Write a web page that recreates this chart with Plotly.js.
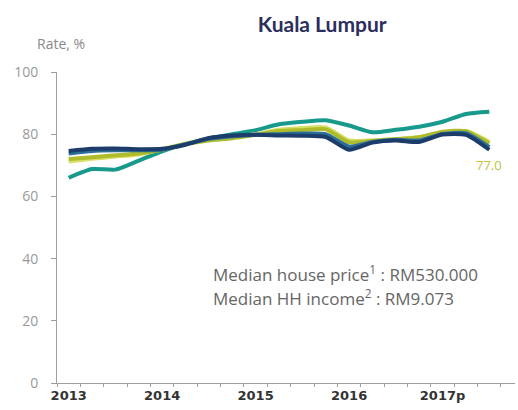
<!DOCTYPE html>
<html>
<head>
<meta charset="utf-8">
<script src="https://cdn.plot.ly/plotly-3.0.1.min.js"></script>
<style>html,body{margin:0;padding:0;background:#fff;}#chart{width:518px;height:410px;}</style>
</head>
<body>
<div id="chart"></div>
<script>
// Quarterly points, 2013 Q1 .. 2017 Q3 (positions are category slots)
const quarters = [0.5,1.5,2.5,3.5,4.5,5.5,6.5,7.5,8.5,9.5,10.5,11.5,12.5,13.5,14.5,15.5,16.5,17.5,18.5];
const yearLabels = ["2013","2014","2015","2016","2017p"];
const yearPositions = [0.5,4.5,8.5,12.5,16.5];

const navy      = [74.6,75.3,75.4,75.2,75.3,76.6,78.8,79.6,79.8,79.6,79.5,79.1,75.0,77.3,78.0,77.5,79.9,79.8,75.0];
const blue      = [73.8,74.6,74.8,74.8,75.0,76.8,78.5,79.3,79.8,80.0,80.2,80.0,76.0,77.5,78.2,78.0,80.1,80.3,75.8];
const olive     = [72.0,72.6,73.2,73.8,75.0,76.8,78.0,78.7,79.8,81.0,81.3,81.6,77.4,77.9,78.3,79.0,80.8,81.0,77.0];
const lightYel  = [71.2,72.1,72.8,73.5,75.2,77.0,78.3,79.0,80.0,81.4,82.0,82.2,78.0,78.0,78.5,79.1,80.5,81.0,77.6];
const tealGreen = [66.0,68.8,68.6,71.5,74.5,76.8,78.6,80.0,81.3,83.2,84.0,84.5,82.8,80.6,81.4,82.4,84.0,86.5,87.2];

const lastLabel = "77.0";

function tr(y, color) {
  return {x: quarters, y: y, type: 'scatter', mode: 'lines',
    line: {color: color, width: 4, shape: 'spline', smoothing: 0.6}, hoverinfo: 'skip'};
}

const data = [
  tr(tealGreen, '#179a8c'),
  tr(lightYel, '#d8df66'),
  tr(olive, '#aebc2c'),
  tr(blue, '#2b6f98'),
  tr(navy, '#1c3d6c')
];

const layout = {
  width: 518, height: 410,
  margin: {l: 57, r: 3, t: 72, b: 27},
  paper_bgcolor: '#ffffff', plot_bgcolor: '#ffffff',
  showlegend: false,
  font: {family: '"Open Sans", Lato, sans-serif'},
  title: {text: '<b>Kuala Lumpur</b>', font: {size: 21, color: '#2c2e5c', family: 'Lato, sans-serif'},
          xref: 'container', x: 0.622, xanchor: 'center', yref: 'container', y: 0.94, yanchor: 'middle'},
  xaxis: {
    range: [0, 19.6], showgrid: false, zeroline: false,
    showline: true, linecolor: '#a0a0a0', linewidth: 1,
    tickmode: 'array', tickvals: yearPositions, ticktext: yearLabels,
    ticks: '', tickfont: {size: 13, color: '#333333', family: '"DejaVu Sans", sans-serif', weight: 'bold'},
    minor: {tickmode: 'linear', tick0: 0, dtick: 1, ticks: 'outside', ticklen: 3, tickcolor: '#a0a0a0', showgrid: false}
  },
  yaxis: {
    range: [0, 100], showgrid: false, zeroline: false,
    showline: true, linecolor: '#a0a0a0', linewidth: 1,
    tickmode: 'array', tickvals: [0,20,40,60,80,100],
    ticks: 'outside', ticklen: 5, tickcolor: '#a0a0a0',
    ticklabelstandoff: 10,
    tickfont: {size: 14, color: '#999999', family: '"Open Sans", sans-serif'}
  },
  annotations: [
    {text: 'Rate, %', xref: 'paper', yref: 'paper', x: (61-57)/458, y: (383-43)/311,
     xanchor: 'center', yanchor: 'middle', showarrow: false, font: {size: 14, color: '#888888'}},
    {text: 'Median house price<sup>1</sup> : RM530.000', xref: 'paper', yref: 'paper',
     x: (211-57)/458, y: (383-273)/311, xanchor: 'left', yanchor: 'middle', showarrow: false,
     font: {size: 17, color: '#666666', family: '"Open Sans", sans-serif'}},
    {text: 'Median HH income<sup>2</sup> : RM9.073', xref: 'paper', yref: 'paper',
     x: (211-57)/458, y: (383-297)/311, xanchor: 'left', yanchor: 'middle', showarrow: false,
     font: {size: 17, color: '#666666', family: '"Open Sans", sans-serif'}},
    {text: lastLabel, xref: 'x', yref: 'paper', x: quarters[quarters.length-1], y: (383-165)/311,
     xanchor: 'center', yanchor: 'middle', showarrow: false, font: {size: 13, color: '#c2bf3a'}}
  ]
};

Plotly.newPlot('chart', data, layout, {staticPlot: true, displayModeBar: false});
</script>
</body>
</html>
